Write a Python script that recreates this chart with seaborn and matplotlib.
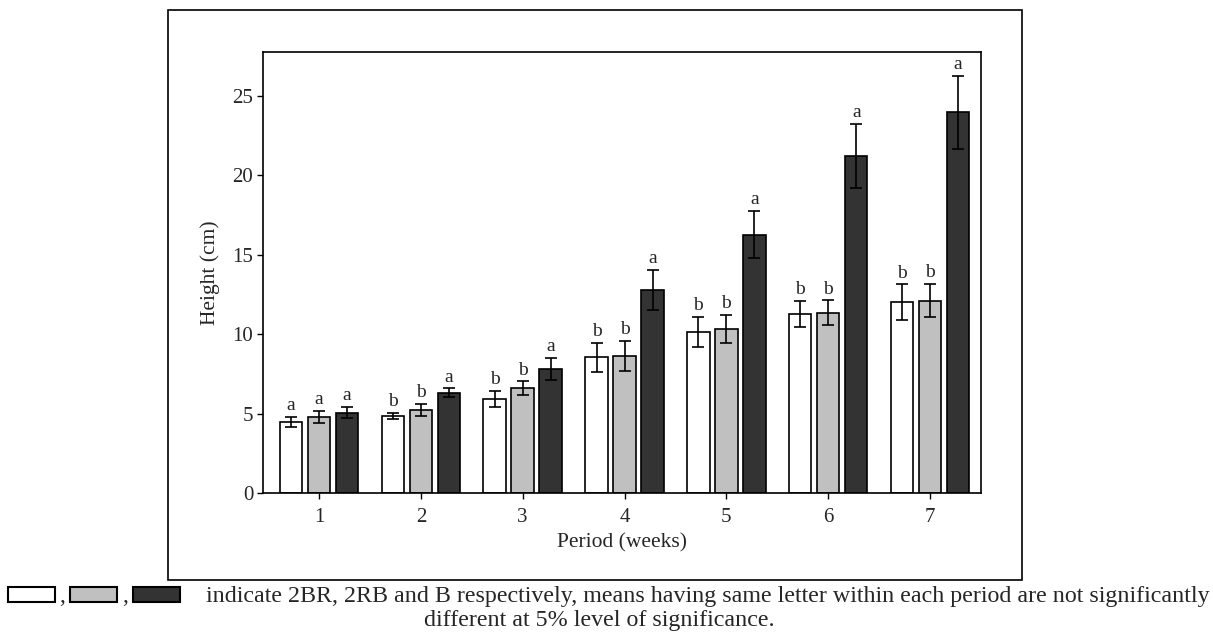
import pandas as pd
import matplotlib
matplotlib.use('Agg')
import matplotlib.pyplot as plt
from matplotlib.patches import Rectangle
import seaborn as sns

# values
periods = ['1', '2', '3', '4', '5', '6', '7']
treatments = ['2BR', '2RB', 'B']
height_2br = [4.49, 4.87, 5.92, 8.54, 10.16, 11.27, 12.01]
height_2rb = [4.79, 5.25, 6.59, 8.63, 10.35, 11.35, 12.11]
height_b = [5.06, 6.30, 7.81, 12.78, 16.25, 21.22, 23.95]
err_2br = [0.31, 0.19, 0.52, 0.90, 0.94, 0.81, 1.12]
err_2rb = [0.37, 0.38, 0.44, 0.94, 0.88, 0.77, 1.04]
err_b = [0.37, 0.28, 0.67, 1.28, 1.49, 2.02, 2.29]
letters_2br = ['a', 'b', 'b', 'b', 'b', 'b', 'b']
letters_2rb = ['a', 'b', 'b', 'b', 'b', 'b', 'b']
letters_b = ['a', 'a', 'a', 'a', 'a', 'a', 'a']
colors = ['#ffffff', '#c0c0c0', '#333333']

sns.set_style('ticks')
plt.rcParams['font.family'] = ['Liberation Serif', 'DejaVu Serif']

df = pd.DataFrame({
    'period': periods * 3,
    'treatment': [t for t in treatments for _ in periods],
    'height': height_2br + height_2rb + height_b,
})
errs = [err_2br, err_2rb, err_b]
letters = [letters_2br, letters_2rb, letters_b]

fig = plt.figure(figsize=(12.13, 6.35), dpi=100)
ax = fig.add_axes([0.2168, 0.2236, 0.8087 - 0.2168, 0.918 - 0.2236])

sns.barplot(data=df, x='period', y='height', hue='treatment', hue_order=treatments,
            palette=colors, width=0.825, gap=0.2, errorbar=None,
            edgecolor='black', linewidth=1.2, legend=False, ax=ax)

# error bars and significance letters on top of each bar
for cont, err, lett in zip(ax.containers, errs, letters):
    xs = [b.get_x() + b.get_width() / 2 for b in cont]
    ys = [b.get_height() for b in cont]
    ax.errorbar(xs, ys, yerr=err, fmt='none', ecolor='black', elinewidth=1.2,
                capsize=4, capthick=1.2)
    for x, y, e, l in zip(xs, ys, err, lett):
        ax.annotate(l, (x, y + e), xytext=(0, 2), textcoords='offset points',
                    ha='center', va='bottom', fontsize=14)

ax.set_xlim(-0.55, 6.5)
ax.set_ylim(0, 27.75)
ax.set_yticks([0, 5, 10, 15, 20, 25])
ax.set_xlabel('Period (weeks)', fontsize=15.5, labelpad=4)
ax.set_ylabel('Height (cm)', fontsize=15.5, labelpad=9)
ax.tick_params(axis='x', labelsize=15, length=4, width=1, color='black', pad=7)
ax.tick_params(axis='y', labelsize=15, length=4, width=1, color='black', pad=3)
for s in ax.spines.values():
    s.set_visible(True)
    s.set_linewidth(1.2)
    s.set_color('black')

# outer frame around the figure
fig.patches.append(Rectangle((0.1385, 0.0866), 0.8425 - 0.1385, 0.984 - 0.0866,
                             transform=fig.transFigure, fill=False,
                             edgecolor='black', linewidth=1.2))

# caption with legend boxes
box_y = (635 - 602) / 635
box_h = 15 / 635
for x0, c in zip([8, 70, 133], colors):
    fig.patches.append(Rectangle((x0 / 1213, box_y), 47 / 1213, box_h,
                                 transform=fig.transFigure, facecolor=c,
                                 edgecolor='black', linewidth=1.5))
fig.text(62 / 1213, 0.061, ',', fontsize=17, ha='center', va='center')
fig.text(125 / 1213, 0.061, ',', fontsize=17, ha='center', va='center')
fig.text(206 / 1213, 0.061,
         'indicate 2BR, 2RB and B respectively, means having same letter within each period are not significantly',
         fontsize=17.3, ha='left', va='center')
fig.text(599 / 1213, 0.0236, 'different at 5% level of significance.',
         fontsize=17.3, ha='center', va='center')

fig.savefig('out.png', dpi=100)
